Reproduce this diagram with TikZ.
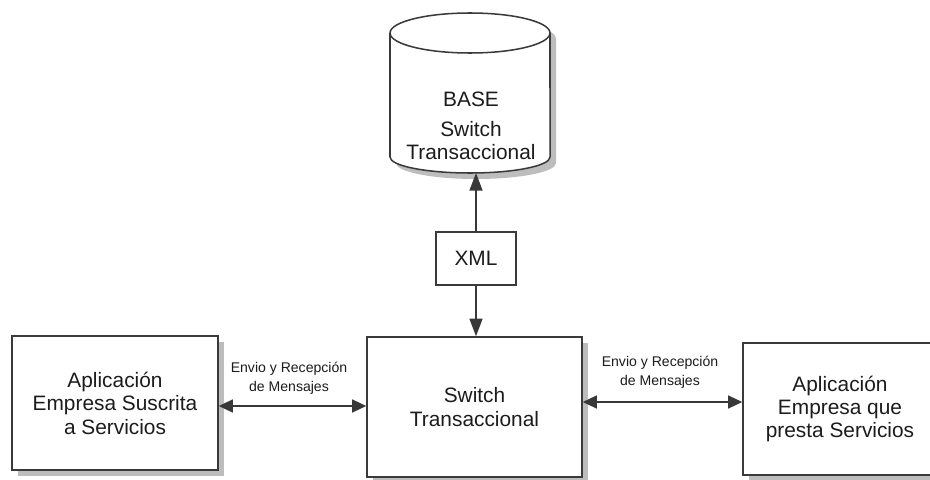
\documentclass[tikz,border=0pt]{standalone}
\usepackage{fontspec}
\setmainfont{Liberation Sans}
\usepackage{xcolor}
\usepackage{tikz}
\usetikzlibrary{arrows.meta, positioning, calc, shadows}
\definecolor{linegray}{HTML}{3A3A3A}
\definecolor{textdark}{HTML}{1C1C1C}
\definecolor{shadowgray}{HTML}{BDBDBD}
\newcommand{\boxfont}{\fontsize{17.8}{20}\selectfont}
\newcommand{\msgfont}{\fontsize{12}{16.2}\selectfont}
\tikzset{
  appbox/.style={
    draw=linegray, line width=1.3pt, fill=white, align=center,
    font=\boxfont, text=textdark,
    drop shadow={shadow xshift=0.18cm, shadow yshift=-0.18cm,
      fill=shadowgray, opacity=1}
  },
  xmlbox/.style={
    draw=linegray, line width=1.1pt, fill=white, align=center,
    font=\boxfont, text=textdark,
    minimum width=2.4cm, minimum height=1.59cm
  },
  dbshape/.style={
    draw=linegray, line width=1.3pt, fill=white,
    drop shadow={shadow xshift=0.18cm, shadow yshift=-0.18cm,
      fill=shadowgray, opacity=1}
  },
  msglabel/.style={
    font=\msgfont, text=textdark, align=center
  },
  msgarrow/.style={
    {Triangle[length=12pt,width=11pt]}-{Triangle[length=12pt,width=11pt]},
    line width=1.5pt, color=black!78
  },
  xmlarrow/.style={
    -{Triangle[length=15pt,width=11pt]},
    line width=1.5pt, color=black!78
  },
}

\begin{document}
\begin{tikzpicture}[x=0.03cm, y=-0.03cm]
  \path[use as bounding box, fill=white] (0,0) rectangle (930,479);

  % database cylinder
  \filldraw[dbshape] (390,33) -- (390,157)
    arc[start angle=180, end angle=360, x radius=2.4cm, y radius=0.48cm]
    -- (550,33)
    arc[start angle=0, end angle=180, x radius=2.4cm, y radius=0.6cm]
    -- cycle;
  \draw[linegray, line width=1.3pt] (390,33)
    arc[start angle=180, end angle=360, x radius=2.4cm, y radius=0.6cm];
  \coordinate (dbbot) at (470,173);
  \node[font=\boxfont, text=textdark, align=center] (dbtxt) at (471,126)
    {BASE\\[5pt]Switch\\Transaccional};

  % boxes
  \node[appbox, minimum width=6.18cm, minimum height=4.02cm] (lbox) at (115,403)
    {Aplicación\\Empresa Suscrita\\a Servicios};
  \node[appbox, minimum width=6.45cm, minimum height=4.2cm] (swbox) at (474.5,407)
    {Switch\\Transaccional};
  \node[appbox, minimum width=5.82cm, minimum height=3.96cm] (rbox) at (840,409)
    {Aplicación\\Empresa que\\presta Servicios};
  \node[xmlbox] (xml) at (476,258.5) {XML};

  % connectors
  \draw[xmlarrow] (xml.north) -- (xml.north |- dbbot);
  \draw[xmlarrow] (xml.south) -- (xml.south |- swbox.north);

  \coordinate (lmid) at ([yshift=-0.09cm]lbox.east);
  \draw[msgarrow] (lmid) -- (lmid -| swbox.west);
  \coordinate (rmid) at ([yshift=0.21cm]rbox.west);
  \draw[msgarrow] (rmid -| swbox.east) -- (rmid);

  % labels
  \node[msglabel] (lmsg) at (289,378) {Envio y Recepción\\de Mensajes};
  \node[msglabel] (rmsg) at (660,372) {Envio y Recepción\\de Mensajes};
\end{tikzpicture}
\end{document}
